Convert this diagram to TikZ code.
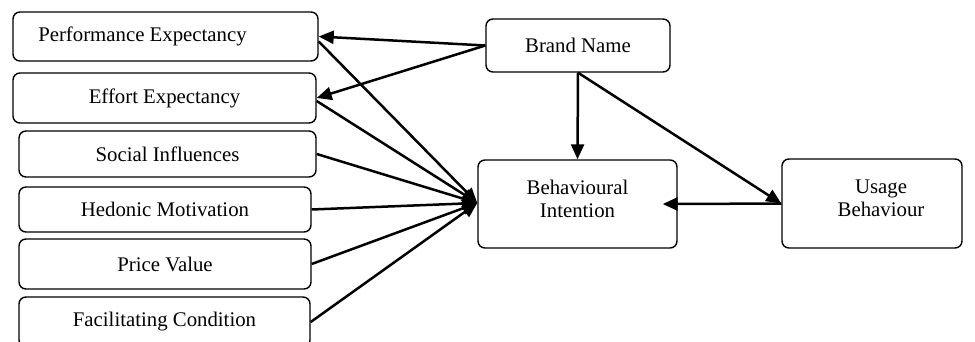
\documentclass[tikz,border=0pt]{standalone}
\usepackage{fontspec}
\setmainfont{Liberation Serif}
\usetikzlibrary{arrows.meta}
\begin{document}
\begin{tikzpicture}[x=1pt,y=-1pt,
  box/.style={draw, line width=1.4pt, rounded corners=7pt, inner sep=0pt, align=center,
    font=\fontsize{20.8}{23}\selectfont},
  conn/.style={line width=2.5pt, -{Triangle[length=15pt,width=13pt]}}]
\useasboundingbox (0,0) rectangle (975,342);
\fill[white] (0,0) rectangle (975,342);
\begin{scope}
\clip (0,0) rectangle (975,342);
\node[box, minimum width=305pt, minimum height=49pt] (PE) at (165.5,36.5) {Performance Expectancy\hspace{46pt}};
\node[box, minimum width=303pt, minimum height=50pt] (EE) at (164.5,98) {Effort Expectancy};
\node[box, minimum width=297pt, minimum height=46pt] (SI) at (167.5,154) {Social Influences};
\node[box, minimum width=292pt, minimum height=45pt] (HM) at (165,209.5) {Hedonic Motivation};
\node[box, minimum width=292pt, minimum height=50pt] (PV) at (165,264) {Price Value};
\node[box, minimum width=291pt, minimum height=50pt] (FC) at (164.5,322) {Facilitating Condition};
\node[box, minimum width=184pt, minimum height=53pt] (BN) at (578,45.5) {Brand Name};
\node[box, minimum width=199pt, minimum height=88pt] (BI) at (577.5,204) {Behavioural\\Intention\\[-12pt]\mbox{}};
\node[box, minimum width=180pt, minimum height=89pt] (UB) at (872,203.5) {\hspace{18pt}Usage\\\hspace{18pt}Behaviour\\[-12pt]\mbox{}};
\end{scope}
\coordinate (BIin) at ([yshift=1pt]BI.west);
\draw[conn] ([yshift=-5pt]PE.east) -- (BIin);
\draw[conn] ([yshift=-3pt]EE.east) -- (BIin);
\draw[conn] (SI.east) -- (BIin);
\draw[conn] (HM.east) -- (BIin);
\draw[conn] (PV.east) -- (BIin);
\draw[conn] (FC.east) -- (BIin);
\draw[conn] (BN.west) -- (PE.east);
\draw[conn] (BN.west) -- (EE.east);
\draw[conn] (BN.south) -- (BI.north);
\draw[conn] (BN.south) -- (UB.west);
\draw[conn, {Triangle[length=15pt,width=13pt]}-, shorten <=-15pt] (BI.east) -- (UB.west);
\end{tikzpicture}
\end{document}
